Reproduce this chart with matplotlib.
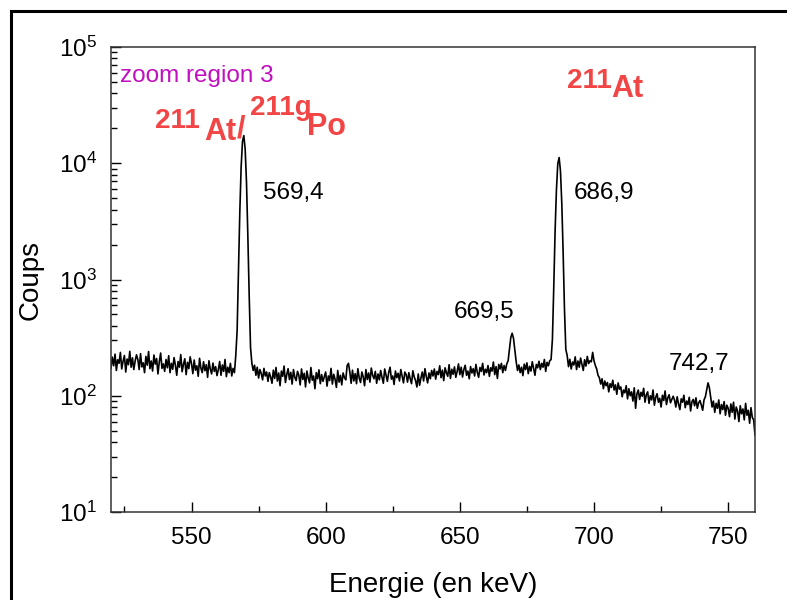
import numpy as np
import matplotlib
matplotlib.use("Agg")
import matplotlib.pyplot as plt
from matplotlib.patches import Rectangle

plt.rcParams['font.family'] = ['Liberation Sans', 'DejaVu Sans']
plt.rcParams['mathtext.fontset'] = 'custom'
plt.rcParams['mathtext.rm'] = 'Liberation Sans'

# spectrum channels, 0.5 keV wide, 520 -> 760 keV
e_start, e_stop = 520.0, 760.0
counts = [
    172, 215, 181, 228, 165, 204, 190, 236, 170, 198, 222, 160, 207, 185, 241, 176, 212, 168, 199, 225,  # 520
    205, 168, 230, 177, 192, 158, 218, 183, 240, 171, 199, 163, 224, 187, 209, 154, 196, 233, 172, 188,  # 530
    162, 205, 174, 221, 158, 190, 169, 213, 183, 150, 197, 176, 226, 161, 186, 208, 152, 194, 171, 216,  # 540
    189, 155, 203, 166, 181, 147, 210, 173, 158, 196, 164, 185, 144, 200, 170, 154, 191, 162, 178, 149,  # 550
    168, 197, 150, 184, 162, 205, 146, 176, 158, 190, 148, 172, 158, 222, 360, 1220, 3780, 9300, 15400, 17300,  # 560
    13200, 6800, 2360, 730, 260, 190, 165, 183, 150, 176, 142, 168, 155, 137, 172, 148, 160, 133, 158, 145,  # 570
    128, 166, 141, 175, 134, 157, 122, 163, 147, 180, 130, 152, 171, 138, 159, 126, 168, 144, 135, 162,  # 580
    150, 124, 170, 138, 156, 119, 163, 142, 129, 175, 136, 148, 115, 158, 140, 167, 127, 152, 133, 146,  # 590
    160, 121, 148, 135, 172, 126, 153, 139, 118, 165, 131, 150, 124, 157, 143, 137, 182, 190, 160, 128,  # 600
    166, 134, 155, 127, 171, 142, 130, 160, 145, 122, 168, 138, 157, 131, 173, 150, 140, 162, 128, 154,  # 610
    137, 165, 144, 128, 170, 151, 133, 159, 176, 139, 148, 125, 163, 143, 156, 134, 168, 147, 129, 160,  # 620
    152, 131, 158, 140, 127, 164, 145, 135, 119, 154, 123, 142, 160, 134, 171, 146, 129, 157, 140, 165,  # 630
    148, 170, 139, 162, 152, 181, 143, 166, 135, 174, 158, 147, 185, 141, 169, 153, 177, 144, 162, 188,  # 640
    152, 176, 145, 168, 183, 150, 163, 140, 178, 157, 171, 148, 186, 159, 144, 175, 162, 190, 151, 169,  # 650
    158, 182, 147, 174, 163, 195, 152, 178, 141, 186, 170, 190, 158, 182, 165, 188, 200, 250, 318, 345,  # 660
    312, 246, 196, 165, 184, 158, 176, 149, 187, 168, 192, 155, 179, 163, 196, 172, 150, 186, 174, 198,  # 670
    168, 190, 176, 205, 162, 194, 181, 200, 205, 305, 850, 2600, 5900, 9900, 11200, 8600, 4500, 1700, 550, 250,  # 680
    222, 178, 206, 170, 195, 184, 216, 168, 199, 176, 211, 187, 165, 204, 180, 218, 189, 200, 196, 236,  # 690
    200, 182, 170, 150, 143, 126, 140, 115, 134, 122, 130, 108, 127, 118, 136, 112, 124, 103, 129, 114,  # 700
    119, 98, 112, 106, 122, 94, 115, 100, 108, 90, 117, 78, 104, 112, 93, 107, 99, 116, 88, 102,  # 710
    108, 86, 100, 92, 112, 83, 97, 104, 88, 95, 80, 101, 91, 110, 84, 96, 102, 87, 93, 99,  # 720
    92, 80, 98, 85, 76, 94, 88, 101, 79, 90, 84, 97, 74, 89, 93, 82, 96, 78, 87, 91,  # 730
    83, 75, 92, 98, 112, 129, 117, 96, 80, 90, 72, 86, 78, 92, 70, 84, 76, 89, 68, 83,  # 740
    78, 66, 85, 72, 88, 63, 80, 74, 60, 82, 70, 77, 62, 86, 68, 75, 58, 79, 65, 62,  # 750
    46,  # 760
]
energy = np.linspace(e_start, e_stop, len(counts))

peak_labels = ["569,4", "686,9", "669,5", "742,7"]
peak_label_pos = [(576.7, 4900), (692.4, 4900), (647.6, 467), (727.8, 167)]

red = '#f24646'

fig = plt.figure(figsize=(7.87, 6.0), dpi=100)
ax = fig.add_axes([111 / 787, 1 - 512 / 600, 644 / 787, 465 / 600])

ax.plot(energy, counts, color='black', lw=1.2)
ax.set_yscale('log')
ax.set_xlim(520, 760)
ax.set_ylim(10, 1e5)
ax.set_xticks([550, 600, 650, 700, 750])
ax.set_xticks([525, 575, 625, 675, 725], minor=True)
ax.tick_params(which='both', direction='in', top=False, right=False, labelsize=17.5, width=1.0)
ax.tick_params(which='major', length=7)
ax.tick_params(which='minor', length=4)
ax.tick_params(axis='x', pad=11)
ax.tick_params(axis='y', pad=10)
for s in ax.spines.values():
    s.set_linewidth(1.1)
    s.set_color('#333333')

ax.set_xlabel("Energie (en keV)", fontsize=20, labelpad=16)
ax.set_ylabel("Coups", fontsize=20, labelpad=11)

for lab, (x, y) in zip(peak_labels, peak_label_pos):
    ax.text(x, y, lab, fontsize=17.5, va='baseline', ha='left')

def axpos(px, py):
    return (px - 111) / 644, (512 - py) / 465

ax.text(*axpos(120, 82), "zoom region 3", transform=ax.transAxes, color='#c010c0', fontsize=17.5, va='baseline')

pieces = [("211", 567, 88, 20), ("At", 611, 97, 22),
          ("211", 155, 128, 20), ("At", 204, 140, 22), ("/", 237, 137, 22),
          ("211g", 250, 115, 20), ("Po", 307, 135, 22)]
for txt, px, py, fs in pieces:
    ax.text(*axpos(px, py), txt, transform=ax.transAxes, color=red, fontsize=fs,
            fontweight='bold', va='baseline', ha='left')

fig.add_artist(Rectangle((10.5 / 787, -0.2), 2.0, 1.2 - 10.5 / 600, transform=fig.transFigure,
                         fill=False, lw=2.2, ec='black'))

fig.savefig("out.png", dpi=100)
